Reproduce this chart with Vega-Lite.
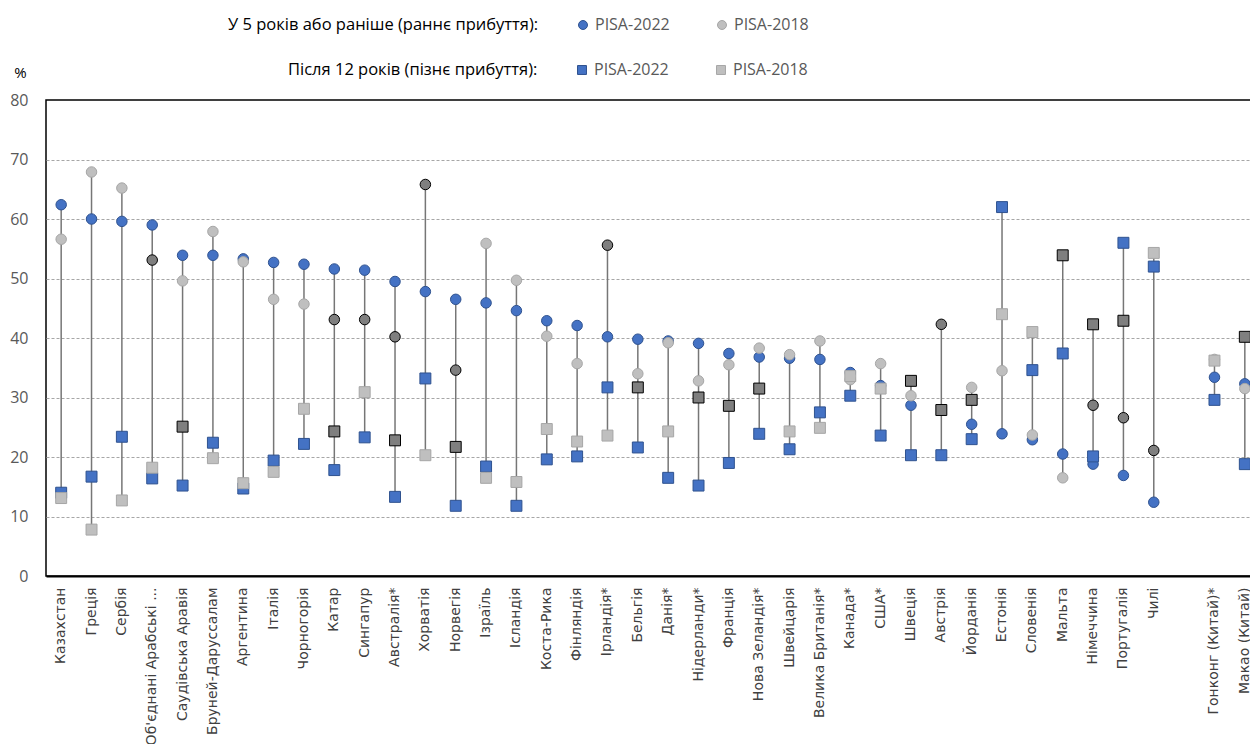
{
  "$schema": "https://vega.github.io/schema/vega-lite/v6.json",
  "width": 1214,
  "height": 476,
  "autosize": {"type": "none"},
  "padding": {"left": 46, "top": 100, "right": 0, "bottom": 168},
  "background": "#ffffff",
  "config": {
    "font": "Open Sans",
    "view": {"stroke": "#000000", "strokeWidth": 1.5},
    "legend": {"titleLimit": 500}
  },
  "data": {"values": [
    {"c": "Казахстан", "t": "early", "y": "PISA-2022", "sig": false, "v": 62.4},
    {"c": "Казахстан", "t": "early", "y": "PISA-2018", "sig": false, "v": 56.6},
    {"c": "Казахстан", "t": "late", "y": "PISA-2022", "sig": false, "v": 14.0},
    {"c": "Казахстан", "t": "late", "y": "PISA-2018", "sig": false, "v": 13.1},
    {"c": "Греція", "t": "early", "y": "PISA-2022", "sig": false, "v": 60.0},
    {"c": "Греція", "t": "early", "y": "PISA-2018", "sig": false, "v": 67.9},
    {"c": "Греція", "t": "late", "y": "PISA-2022", "sig": false, "v": 16.7},
    {"c": "Греція", "t": "late", "y": "PISA-2018", "sig": false, "v": 7.8},
    {"c": "Сербія", "t": "early", "y": "PISA-2022", "sig": false, "v": 59.6},
    {"c": "Сербія", "t": "early", "y": "PISA-2018", "sig": false, "v": 65.2},
    {"c": "Сербія", "t": "late", "y": "PISA-2022", "sig": false, "v": 23.4},
    {"c": "Сербія", "t": "late", "y": "PISA-2018", "sig": false, "v": 12.7},
    {"c": "Об'єднані Арабські ...", "t": "early", "y": "PISA-2022", "sig": false, "v": 59.0},
    {"c": "Об'єднані Арабські ...", "t": "early", "y": "PISA-2018", "sig": true, "v": 53.1},
    {"c": "Об'єднані Арабські ...", "t": "late", "y": "PISA-2022", "sig": false, "v": 16.4},
    {"c": "Об'єднані Арабські ...", "t": "late", "y": "PISA-2018", "sig": false, "v": 18.2},
    {"c": "Саудівська Аравія", "t": "early", "y": "PISA-2022", "sig": false, "v": 53.9},
    {"c": "Саудівська Аравія", "t": "early", "y": "PISA-2018", "sig": false, "v": 49.6},
    {"c": "Саудівська Аравія", "t": "late", "y": "PISA-2022", "sig": false, "v": 15.2},
    {"c": "Саудівська Аравія", "t": "late", "y": "PISA-2018", "sig": true, "v": 25.1},
    {"c": "Бруней-Даруссалам", "t": "early", "y": "PISA-2022", "sig": false, "v": 53.9},
    {"c": "Бруней-Даруссалам", "t": "early", "y": "PISA-2018", "sig": false, "v": 57.9},
    {"c": "Бруней-Даруссалам", "t": "late", "y": "PISA-2022", "sig": false, "v": 22.4},
    {"c": "Бруней-Даруссалам", "t": "late", "y": "PISA-2018", "sig": false, "v": 19.8},
    {"c": "Аргентина", "t": "early", "y": "PISA-2022", "sig": false, "v": 53.3},
    {"c": "Аргентина", "t": "early", "y": "PISA-2018", "sig": false, "v": 52.8},
    {"c": "Аргентина", "t": "late", "y": "PISA-2022", "sig": false, "v": 14.7},
    {"c": "Аргентина", "t": "late", "y": "PISA-2018", "sig": false, "v": 15.6},
    {"c": "Італія", "t": "early", "y": "PISA-2022", "sig": false, "v": 52.7},
    {"c": "Італія", "t": "early", "y": "PISA-2018", "sig": false, "v": 46.5},
    {"c": "Італія", "t": "late", "y": "PISA-2022", "sig": false, "v": 19.4},
    {"c": "Італія", "t": "late", "y": "PISA-2018", "sig": false, "v": 17.5},
    {"c": "Чорногорія", "t": "early", "y": "PISA-2022", "sig": false, "v": 52.4},
    {"c": "Чорногорія", "t": "early", "y": "PISA-2018", "sig": false, "v": 45.7},
    {"c": "Чорногорія", "t": "late", "y": "PISA-2022", "sig": false, "v": 22.2},
    {"c": "Чорногорія", "t": "late", "y": "PISA-2018", "sig": false, "v": 28.1},
    {"c": "Катар", "t": "early", "y": "PISA-2022", "sig": false, "v": 51.6},
    {"c": "Катар", "t": "early", "y": "PISA-2018", "sig": true, "v": 43.1},
    {"c": "Катар", "t": "late", "y": "PISA-2022", "sig": false, "v": 17.8},
    {"c": "Катар", "t": "late", "y": "PISA-2018", "sig": true, "v": 24.3},
    {"c": "Сингапур", "t": "early", "y": "PISA-2022", "sig": false, "v": 51.4},
    {"c": "Сингапур", "t": "early", "y": "PISA-2018", "sig": true, "v": 43.1},
    {"c": "Сингапур", "t": "late", "y": "PISA-2022", "sig": false, "v": 23.3},
    {"c": "Сингапур", "t": "late", "y": "PISA-2018", "sig": false, "v": 30.9},
    {"c": "Австралія*", "t": "early", "y": "PISA-2022", "sig": false, "v": 49.5},
    {"c": "Австралія*", "t": "early", "y": "PISA-2018", "sig": true, "v": 40.2},
    {"c": "Австралія*", "t": "late", "y": "PISA-2022", "sig": false, "v": 13.3},
    {"c": "Австралія*", "t": "late", "y": "PISA-2018", "sig": true, "v": 22.8},
    {"c": "Хорватія", "t": "early", "y": "PISA-2022", "sig": false, "v": 47.8},
    {"c": "Хорватія", "t": "early", "y": "PISA-2018", "sig": true, "v": 65.8},
    {"c": "Хорватія", "t": "late", "y": "PISA-2022", "sig": false, "v": 33.2},
    {"c": "Хорватія", "t": "late", "y": "PISA-2018", "sig": false, "v": 20.3},
    {"c": "Норвегія", "t": "early", "y": "PISA-2022", "sig": false, "v": 46.5},
    {"c": "Норвегія", "t": "early", "y": "PISA-2018", "sig": true, "v": 34.6},
    {"c": "Норвегія", "t": "late", "y": "PISA-2022", "sig": false, "v": 11.8},
    {"c": "Норвегія", "t": "late", "y": "PISA-2018", "sig": true, "v": 21.7},
    {"c": "Ізраїль", "t": "early", "y": "PISA-2022", "sig": false, "v": 45.9},
    {"c": "Ізраїль", "t": "early", "y": "PISA-2018", "sig": false, "v": 55.9},
    {"c": "Ізраїль", "t": "late", "y": "PISA-2022", "sig": false, "v": 18.4},
    {"c": "Ізраїль", "t": "late", "y": "PISA-2018", "sig": false, "v": 16.5},
    {"c": "Ісландія", "t": "early", "y": "PISA-2022", "sig": false, "v": 44.6},
    {"c": "Ісландія", "t": "early", "y": "PISA-2018", "sig": false, "v": 49.7},
    {"c": "Ісландія", "t": "late", "y": "PISA-2022", "sig": false, "v": 11.8},
    {"c": "Ісландія", "t": "late", "y": "PISA-2018", "sig": false, "v": 15.8},
    {"c": "Коста-Рика", "t": "early", "y": "PISA-2022", "sig": false, "v": 42.9},
    {"c": "Коста-Рика", "t": "early", "y": "PISA-2018", "sig": false, "v": 40.3},
    {"c": "Коста-Рика", "t": "late", "y": "PISA-2022", "sig": false, "v": 19.6},
    {"c": "Коста-Рика", "t": "late", "y": "PISA-2018", "sig": false, "v": 24.7},
    {"c": "Фінляндія", "t": "early", "y": "PISA-2022", "sig": false, "v": 42.1},
    {"c": "Фінляндія", "t": "early", "y": "PISA-2018", "sig": false, "v": 35.7},
    {"c": "Фінляндія", "t": "late", "y": "PISA-2022", "sig": false, "v": 20.1},
    {"c": "Фінляндія", "t": "late", "y": "PISA-2018", "sig": false, "v": 22.6},
    {"c": "Ірландія*", "t": "early", "y": "PISA-2022", "sig": false, "v": 40.2},
    {"c": "Ірландія*", "t": "early", "y": "PISA-2018", "sig": true, "v": 55.6},
    {"c": "Ірландія*", "t": "late", "y": "PISA-2022", "sig": false, "v": 31.7},
    {"c": "Ірландія*", "t": "late", "y": "PISA-2018", "sig": false, "v": 23.6},
    {"c": "Бельгія", "t": "early", "y": "PISA-2022", "sig": false, "v": 39.8},
    {"c": "Бельгія", "t": "early", "y": "PISA-2018", "sig": false, "v": 34.0},
    {"c": "Бельгія", "t": "late", "y": "PISA-2022", "sig": false, "v": 21.6},
    {"c": "Бельгія", "t": "late", "y": "PISA-2018", "sig": true, "v": 31.7},
    {"c": "Данія*", "t": "early", "y": "PISA-2022", "sig": false, "v": 39.5},
    {"c": "Данія*", "t": "early", "y": "PISA-2018", "sig": false, "v": 39.2},
    {"c": "Данія*", "t": "late", "y": "PISA-2022", "sig": false, "v": 16.5},
    {"c": "Данія*", "t": "late", "y": "PISA-2018", "sig": false, "v": 24.3},
    {"c": "Нідерланди*", "t": "early", "y": "PISA-2022", "sig": false, "v": 39.1},
    {"c": "Нідерланди*", "t": "early", "y": "PISA-2018", "sig": false, "v": 32.8},
    {"c": "Нідерланди*", "t": "late", "y": "PISA-2022", "sig": false, "v": 15.2},
    {"c": "Нідерланди*", "t": "late", "y": "PISA-2018", "sig": true, "v": 30.0},
    {"c": "Франція", "t": "early", "y": "PISA-2022", "sig": false, "v": 37.4},
    {"c": "Франція", "t": "early", "y": "PISA-2018", "sig": false, "v": 35.5},
    {"c": "Франція", "t": "late", "y": "PISA-2022", "sig": false, "v": 19.0},
    {"c": "Франція", "t": "late", "y": "PISA-2018", "sig": true, "v": 28.6},
    {"c": "Нова Зеландія*", "t": "early", "y": "PISA-2022", "sig": false, "v": 36.8},
    {"c": "Нова Зеландія*", "t": "early", "y": "PISA-2018", "sig": false, "v": 38.3},
    {"c": "Нова Зеландія*", "t": "late", "y": "PISA-2022", "sig": false, "v": 23.9},
    {"c": "Нова Зеландія*", "t": "late", "y": "PISA-2018", "sig": true, "v": 31.5},
    {"c": "Швейцарія", "t": "early", "y": "PISA-2022", "sig": false, "v": 36.6},
    {"c": "Швейцарія", "t": "early", "y": "PISA-2018", "sig": false, "v": 37.2},
    {"c": "Швейцарія", "t": "late", "y": "PISA-2022", "sig": false, "v": 21.3},
    {"c": "Швейцарія", "t": "late", "y": "PISA-2018", "sig": false, "v": 24.3},
    {"c": "Велика Британія*", "t": "early", "y": "PISA-2022", "sig": false, "v": 36.4},
    {"c": "Велика Британія*", "t": "early", "y": "PISA-2018", "sig": false, "v": 39.5},
    {"c": "Велика Британія*", "t": "late", "y": "PISA-2022", "sig": false, "v": 27.5},
    {"c": "Велика Британія*", "t": "late", "y": "PISA-2018", "sig": false, "v": 24.9},
    {"c": "Канада*", "t": "early", "y": "PISA-2022", "sig": false, "v": 34.2},
    {"c": "Канада*", "t": "early", "y": "PISA-2018", "sig": false, "v": 33.0},
    {"c": "Канада*", "t": "late", "y": "PISA-2022", "sig": false, "v": 30.3},
    {"c": "Канада*", "t": "late", "y": "PISA-2018", "sig": false, "v": 33.6},
    {"c": "США*", "t": "early", "y": "PISA-2022", "sig": false, "v": 32.0},
    {"c": "США*", "t": "early", "y": "PISA-2018", "sig": false, "v": 35.7},
    {"c": "США*", "t": "late", "y": "PISA-2022", "sig": false, "v": 23.6},
    {"c": "США*", "t": "late", "y": "PISA-2018", "sig": false, "v": 31.5},
    {"c": "Швеція", "t": "early", "y": "PISA-2022", "sig": false, "v": 28.7},
    {"c": "Швеція", "t": "early", "y": "PISA-2018", "sig": false, "v": 30.3},
    {"c": "Швеція", "t": "late", "y": "PISA-2022", "sig": false, "v": 20.3},
    {"c": "Швеція", "t": "late", "y": "PISA-2018", "sig": true, "v": 32.8},
    {"c": "Австрія", "t": "early", "y": "PISA-2018", "sig": true, "v": 42.3},
    {"c": "Австрія", "t": "late", "y": "PISA-2022", "sig": false, "v": 20.3},
    {"c": "Австрія", "t": "late", "y": "PISA-2018", "sig": true, "v": 27.9},
    {"c": "Йорданія", "t": "early", "y": "PISA-2022", "sig": false, "v": 25.5},
    {"c": "Йорданія", "t": "early", "y": "PISA-2018", "sig": false, "v": 31.7},
    {"c": "Йорданія", "t": "late", "y": "PISA-2022", "sig": false, "v": 23.0},
    {"c": "Йорданія", "t": "late", "y": "PISA-2018", "sig": true, "v": 29.6},
    {"c": "Естонія", "t": "early", "y": "PISA-2022", "sig": false, "v": 23.9},
    {"c": "Естонія", "t": "early", "y": "PISA-2018", "sig": false, "v": 34.5},
    {"c": "Естонія", "t": "late", "y": "PISA-2022", "sig": false, "v": 62.0},
    {"c": "Естонія", "t": "late", "y": "PISA-2018", "sig": false, "v": 44.0},
    {"c": "Словенія", "t": "early", "y": "PISA-2022", "sig": false, "v": 22.9},
    {"c": "Словенія", "t": "early", "y": "PISA-2018", "sig": false, "v": 23.7},
    {"c": "Словенія", "t": "late", "y": "PISA-2022", "sig": false, "v": 34.6},
    {"c": "Словенія", "t": "late", "y": "PISA-2018", "sig": false, "v": 41.0},
    {"c": "Мальта", "t": "early", "y": "PISA-2022", "sig": false, "v": 20.5},
    {"c": "Мальта", "t": "early", "y": "PISA-2018", "sig": false, "v": 16.5},
    {"c": "Мальта", "t": "late", "y": "PISA-2022", "sig": false, "v": 37.4},
    {"c": "Мальта", "t": "late", "y": "PISA-2018", "sig": true, "v": 53.9},
    {"c": "Німеччина", "t": "early", "y": "PISA-2022", "sig": false, "v": 18.8},
    {"c": "Німеччина", "t": "early", "y": "PISA-2018", "sig": true, "v": 28.7},
    {"c": "Німеччина", "t": "late", "y": "PISA-2022", "sig": false, "v": 20.1},
    {"c": "Німеччина", "t": "late", "y": "PISA-2018", "sig": true, "v": 42.3},
    {"c": "Португалія", "t": "early", "y": "PISA-2022", "sig": false, "v": 16.9},
    {"c": "Португалія", "t": "early", "y": "PISA-2018", "sig": true, "v": 26.6},
    {"c": "Португалія", "t": "late", "y": "PISA-2022", "sig": false, "v": 56.0},
    {"c": "Португалія", "t": "late", "y": "PISA-2018", "sig": true, "v": 42.9},
    {"c": "Чилі", "t": "early", "y": "PISA-2022", "sig": false, "v": 12.4},
    {"c": "Чилі", "t": "early", "y": "PISA-2018", "sig": true, "v": 21.1},
    {"c": "Чилі", "t": "late", "y": "PISA-2022", "sig": false, "v": 52.0},
    {"c": "Чилі", "t": "late", "y": "PISA-2018", "sig": false, "v": 54.3},
    {"c": "Гонконг (Китай)*", "t": "early", "y": "PISA-2022", "sig": false, "v": 33.4},
    {"c": "Гонконг (Китай)*", "t": "early", "y": "PISA-2018", "sig": false, "v": 36.4},
    {"c": "Гонконг (Китай)*", "t": "late", "y": "PISA-2022", "sig": false, "v": 29.6},
    {"c": "Гонконг (Китай)*", "t": "late", "y": "PISA-2018", "sig": false, "v": 36.2},
    {"c": "Макао (Китай)", "t": "early", "y": "PISA-2022", "sig": false, "v": 32.3},
    {"c": "Макао (Китай)", "t": "early", "y": "PISA-2018", "sig": false, "v": 31.5},
    {"c": "Макао (Китай)", "t": "late", "y": "PISA-2022", "sig": false, "v": 18.8},
    {"c": "Макао (Китай)", "t": "late", "y": "PISA-2018", "sig": true, "v": 40.2}
  ]},
  "encoding": {
    "x": {
      "field": "c", "type": "nominal", "title": null,
      "scale": {
        "domain": ["Казахстан", "Греція", "Сербія", "Об'єднані Арабські ...", "Саудівська Аравія", "Бруней-Даруссалам", "Аргентина", "Італія", "Чорногорія", "Катар", "Сингапур", "Австралія*", "Хорватія", "Норвегія", "Ізраїль", "Ісландія", "Коста-Рика", "Фінляндія", "Ірландія*", "Бельгія", "Данія*", "Нідерланди*", "Франція", "Нова Зеландія*", "Швейцарія", "Велика Британія*", "Канада*", "США*", "Швеція", "Австрія", "Йорданія", "Естонія", "Словенія", "Мальта", "Німеччина", "Португалія", "Чилі", " ", "Гонконг (Китай)*", "Макао (Китай)"],
        "paddingInner": 0, "paddingOuter": 0
      },
      "axis": {
        "labelAngle": -90, "labelAlign": "right", "labelBaseline": "middle",
        "labelFont": "DejaVu Sans", "labelFontSize": 14, "labelColor": "#404040",
        "labelPadding": 11, "ticks": false, "domain": true, "domainColor": "#000000",
        "domainWidth": 2, "labelLimit": 220, "grid": false
      }
    },
    "y": {
      "field": "v", "type": "quantitative", "title": "%",
      "scale": {"domain": [0, 80], "nice": false},
      "axis": {
        "values": [0, 10, 20, 30, 40, 50, 60, 70, 80],
        "labelFontSize": 16, "labelColor": "#595959", "labelPadding": 18,
        "ticks": false, "domain": false, "grid": true, "gridDash": [3, 2],
        "gridColor": "#A6A6A6", "gridWidth": 1,
        "gridOpacity": {"condition": {"test": "datum.value === 0 || datum.value === 80", "value": 0}, "value": 1},
        "titleAngle": 0, "titleX": -26, "titleY": -28, "titleAlign": "center",
        "titleBaseline": "middle", "titleFontSize": 15, "titleFontWeight": "normal",
        "titleColor": "#000000"
      }
    }
  },
  "layer": [
    {
      "transform": [{"aggregate": [{"op": "min", "field": "v", "as": "v"}, {"op": "max", "field": "v", "as": "vmax"}], "groupby": ["c"]}],
      "mark": {"type": "rule", "color": "#767676", "strokeWidth": 1.5},
      "encoding": {"y2": {"field": "vmax"}}
    },
    {
      "transform": [{"filter": "datum.t === 'early'"}],
      "mark": {"type": "circle", "size": 110, "strokeWidth": 1, "opacity": 1},
      "encoding": {
        "fill": {
          "condition": {"test": "datum.sig", "value": "#7F7F7F"},
          "field": "y", "type": "nominal",
          "scale": {"domain": ["PISA-2022", "PISA-2018"], "range": ["#4472C4", "#BFBFBF"]},
          "legend": {
            "title": "У 5 років або раніше (раннє прибуття):", "orient": "none",
            "legendX": 182, "legendY": -83, "direction": "horizontal",
            "titleOrient": "left", "titleFontSize": 16.5, "titleFontWeight": "normal",
            "titleColor": "#000000", "titlePadding": 36, "labelFontSize": 16,
            "labelColor": "#595959", "symbolSize": 80, "columnPadding": 44,
            "symbolStrokeWidth": 1, "labelOffset": 4
          }
        },
        "stroke": {
          "condition": {"test": "datum.sig", "value": "#000000"},
          "field": "y", "type": "nominal",
          "scale": {"domain": ["PISA-2022", "PISA-2018"], "range": ["#2F528F", "#A6A6A6"]},
          "legend": {
            "title": "У 5 років або раніше (раннє прибуття):", "orient": "none",
            "legendX": 182, "legendY": -83, "direction": "horizontal",
            "titleOrient": "left", "titleFontSize": 16.5, "titleFontWeight": "normal",
            "titleColor": "#000000", "titlePadding": 36, "labelFontSize": 16,
            "labelColor": "#595959", "symbolSize": 80, "columnPadding": 44,
            "symbolStrokeWidth": 1, "labelOffset": 4
          }
        }
      }
    },
    {
      "transform": [{"filter": "datum.t === 'late'"}],
      "mark": {"type": "square", "size": 120, "strokeWidth": 1, "opacity": 1},
      "encoding": {
        "fill": {
          "condition": {"test": "datum.sig", "value": "#7F7F7F"},
          "field": "y", "type": "nominal",
          "scale": {"domain": ["PISA-2022", "PISA-2018"], "range": ["#4472C4", "#BFBFBF"]},
          "legend": {
            "title": "Після 12 років (пізнє прибуття):", "orient": "none",
            "legendX": 242, "legendY": -38, "direction": "horizontal",
            "titleOrient": "left", "titleFontSize": 16.5, "titleFontWeight": "normal",
            "titleColor": "#000000", "titlePadding": 36, "labelFontSize": 16,
            "labelColor": "#595959", "symbolSize": 80, "columnPadding": 44,
            "symbolStrokeWidth": 1, "labelOffset": 4
          }
        },
        "stroke": {
          "condition": {"test": "datum.sig", "value": "#000000"},
          "field": "y", "type": "nominal",
          "scale": {"domain": ["PISA-2022", "PISA-2018"], "range": ["#2F528F", "#A6A6A6"]},
          "legend": {
            "title": "Після 12 років (пізнє прибуття):", "orient": "none",
            "legendX": 242, "legendY": -38, "direction": "horizontal",
            "titleOrient": "left", "titleFontSize": 16.5, "titleFontWeight": "normal",
            "titleColor": "#000000", "titlePadding": 36, "labelFontSize": 16,
            "labelColor": "#595959", "symbolSize": 80, "columnPadding": 44,
            "symbolStrokeWidth": 1, "labelOffset": 4
          }
        }
      }
    }
  ],
  "resolve": {"scale": {"fill": "independent", "stroke": "independent"}}
}
